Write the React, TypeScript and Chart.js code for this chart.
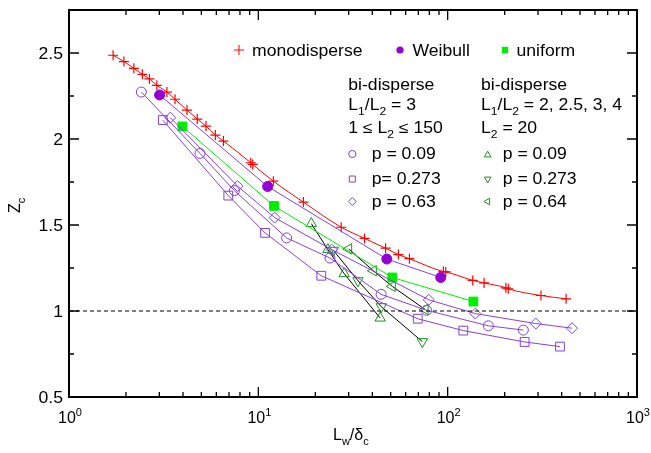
import React, { useEffect, useRef } from "react";
import { Chart, registerables } from "chart.js";

Chart.register(...registerables);

const monoX = [1.71, 1.95, 2.2, 2.44, 2.66, 2.91, 3.29, 3.63, 4.2, 4.76, 5.29, 5.93, 6.54, 9.12, 9.34, 12.0, 17.3, 27.4, 36.4, 47.0, 54.9, 62.8, 94.9, 97.7, 135.7, 155.7, 203, 209, 311, 422];
const monoY = [2.487, 2.45, 2.411, 2.376, 2.349, 2.312, 2.273, 2.231, 2.168, 2.116, 2.075, 2.023, 1.988, 1.862, 1.852, 1.755, 1.633, 1.487, 1.422, 1.365, 1.328, 1.304, 1.229, 1.227, 1.178, 1.163, 1.135, 1.129, 1.09, 1.071];
const weibullX = [3.01, 11.2, 47.7, 91.9];
const weibullY = [2.256, 1.724, 1.302, 1.195];
const uniformX = [3.97, 12.1, 51.0, 136.7];
const uniformY = [2.073, 1.611, 1.195, 1.055];
const circX = [2.41, 4.92, 7.47, 14.1, 23.9, 44.5, 77.4, 164, 251];
const circY = [2.273, 1.916, 1.7, 1.425, 1.308, 1.097, 1.004, 0.914, 0.889];
const sqX = [3.13, 6.94, 10.85, 21.5, 69.5, 121, 255, 392];
const sqY = [2.11, 1.671, 1.454, 1.205, 0.955, 0.886, 0.82, 0.793];
const diaX = [3.43, 7.77, 12.2, 24.4, 79.5, 140, 292, 454];
const diaY = [2.124, 1.726, 1.543, 1.357, 1.065, 0.985, 0.927, 0.9];
const upX = [19.05, 23.3, 28.4, 44.0];
const upY = [1.508, 1.357, 1.217, 0.959];
const downX = [24.9, 33.6, 44.6, 73.5];
const downY = [1.353, 1.176, 1.025, 0.822];
const leftX = [30.0, 40.5, 51.0, 76.0];
const leftY = [1.361, 1.234, 1.143, 1.009];
const refX = [1, 1000];
const refY = [1, 1];

const yTickValues = [0.5, 1, 1.5, 2, 2.5];
const yTickLabels = ["0.5", "1", "1.5", "2", "2.5"];
const xTickValues = [1, 10, 100, 1000];
const xTickExps = ["0", "1", "2", "3"];

const RED = "#ff0000";
const PURPLE_LINE = "#8a3fe0";
const PURPLE_MARK = "#7e44d4";
const WEIBULL = "#9400d3";
const LIME = "#00ee00";
const GREEN = "#1f8f1f";
const FONT = "'Liberation Sans', Arial, Helvetica, sans-serif";

const pts = (xs: number[], ys: number[]) => xs.map((x, i) => ({ x, y: ys[i] }));

type Seg = { t: string; sub?: boolean; sup?: boolean };

function drawRich(ctx: CanvasRenderingContext2D, segs: Seg[], x: number, y: number, size = 16, sx = 1.1) {
  let cx = x;
  for (const s of segs) {
    const fs = s.sub || s.sup ? Math.round(size * 0.7) : size;
    const dy = s.sub ? size * 0.33 : s.sup ? -size * 0.45 : 0;
    ctx.font = `${fs}px ${FONT}`;
    ctx.save();
    ctx.translate(cx, y + dy);
    ctx.scale(sx, 1);
    ctx.fillText(s.t, 0, 0);
    ctx.restore();
    cx += ctx.measureText(s.t).width * sx;
  }
  return cx - x;
}

function measureRich(ctx: CanvasRenderingContext2D, segs: Seg[], size = 16, sx = 1.1) {
  let w = 0;
  for (const s of segs) {
    const fs = s.sub || s.sup ? Math.round(size * 0.7) : size;
    ctx.font = `${fs}px ${FONT}`;
    w += ctx.measureText(s.t).width * sx;
  }
  return w;
}

function symbol(ctx: CanvasRenderingContext2D, kind: string, x: number, y: number, r: number, color: string, fill: boolean) {
  ctx.save();
  ctx.strokeStyle = color;
  ctx.fillStyle = color;
  ctx.lineWidth = 1;
  ctx.beginPath();
  if (kind === "circle") ctx.arc(x, y, r, 0, Math.PI * 2);
  else if (kind === "rect") ctx.rect(x - r, y - r, 2 * r, 2 * r);
  else if (kind === "diamond") {
    ctx.moveTo(x, y - r); ctx.lineTo(x + r, y); ctx.lineTo(x, y + r); ctx.lineTo(x - r, y); ctx.closePath();
  } else if (kind === "up") {
    ctx.moveTo(x, y - r); ctx.lineTo(x + r * 0.87, y + r * 0.5); ctx.lineTo(x - r * 0.87, y + r * 0.5); ctx.closePath();
  } else if (kind === "down") {
    ctx.moveTo(x, y + r); ctx.lineTo(x + r * 0.87, y - r * 0.5); ctx.lineTo(x - r * 0.87, y - r * 0.5); ctx.closePath();
  } else if (kind === "left") {
    ctx.moveTo(x - r, y); ctx.lineTo(x + r * 0.5, y - r * 0.87); ctx.lineTo(x + r * 0.5, y + r * 0.87); ctx.closePath();
  } else if (kind === "plus") {
    ctx.moveTo(x - r, y); ctx.lineTo(x + r, y); ctx.moveTo(x, y - r); ctx.lineTo(x, y + r);
  }
  if (fill) ctx.fill(); else ctx.stroke();
  ctx.restore();
}

const framePlugin = {
  id: "frame",
  afterDraw(chart: any) {
    const ctx: CanvasRenderingContext2D = chart.ctx;
    const { left, right, top, bottom } = chart.chartArea;
    const xs = chart.scales.x;
    const ys = chart.scales.y;
    ctx.save();
    ctx.strokeStyle = "#000";
    ctx.lineWidth = 2;
    ctx.strokeRect(left, top, right - left, bottom - top);
    ctx.lineWidth = 1.3;
    ctx.beginPath();
    // x ticks
    for (let d = 1; d < 1000; d *= 10) {
      for (let m = 1; m <= 9; m++) {
        const v = d * m;
        const px = xs.getPixelForValue(v);
        const len = m === 1 ? 10 : 5;
        ctx.moveTo(px, bottom); ctx.lineTo(px, bottom - len);
        ctx.moveTo(px, top); ctx.lineTo(px, top + len);
      }
    }
    // y ticks
    for (let k = 0; k <= 9; k++) {
      const v = 0.5 + k * 0.25;
      const py = ys.getPixelForValue(v);
      const len = k % 2 === 0 ? 10 : 5;
      ctx.moveTo(left, py); ctx.lineTo(left + len, py);
      ctx.moveTo(right, py); ctx.lineTo(right - len, py);
    }
    ctx.stroke();

    ctx.fillStyle = "#000";
    ctx.textBaseline = "alphabetic";
    // y tick labels
    yTickValues.forEach((v, i) => {
      const py = ys.getPixelForValue(v);
      const segs = [{ t: yTickLabels[i] }];
      const w = measureRich(ctx, segs, 16, 1.1);
      drawRich(ctx, segs, 63 - w, py + 6, 16, 1.1);
    });
    // x tick labels
    xTickValues.forEach((v, i) => {
      const px = xs.getPixelForValue(v);
      const segs: Seg[] = [{ t: "10" }, { t: xTickExps[i], sup: true }];
      const w = measureRich(ctx, segs, 16, 1.0);
      drawRich(ctx, segs, px - w / 2 + 1, 423, 16, 1.0);
    });
    // axis titles
    drawRich(ctx, [{ t: "L" }, { t: "w", sub: true }, { t: "/δ" }, { t: "c", sub: true }], 333, 440, 16, 1.0);
    ctx.save();
    ctx.translate(20, 213);
    ctx.rotate(-Math.PI / 2);
    drawRich(ctx, [{ t: "Z" }, { t: "c", sub: true }], 0, 0, 16, 1.0);
    ctx.restore();

    // legend
    symbol(ctx, "plus", 239, 50, 5, RED, false);
    drawRich(ctx, [{ t: "monodisperse" }], 252, 55.5);
    symbol(ctx, "circle", 400, 50, 3.6, WEIBULL, true);
    drawRich(ctx, [{ t: "Weibull" }], 412.5, 55.5);
    symbol(ctx, "rect", 505, 50, 3.2, LIME, true);
    drawRich(ctx, [{ t: "uniform" }], 516.5, 55.5);

    const lx = 348.3;
    drawRich(ctx, [{ t: "bi-disperse" }], lx, 89.5);
    drawRich(ctx, [{ t: "L" }, { t: "1", sub: true }, { t: "/L" }, { t: "2", sub: true }, { t: " = 3" }], lx, 110);
    drawRich(ctx, [{ t: "1 ≤ L" }, { t: "2", sub: true }, { t: " ≤ 150" }], lx, 133);
    symbol(ctx, "circle", 352.3, 154, 3.6, PURPLE_MARK, false);
    drawRich(ctx, [{ t: "p = 0.09" }], 371.7, 159.3);
    symbol(ctx, "rect", 352.3, 179, 3, PURPLE_MARK, false);
    drawRich(ctx, [{ t: "p= 0.273" }], 371.7, 184.3);
    symbol(ctx, "diamond", 352.3, 201.5, 4, PURPLE_MARK, false);
    drawRich(ctx, [{ t: "p = 0.63" }], 371.7, 206.7);

    const rx = 481;
    drawRich(ctx, [{ t: "bi-disperse" }], rx, 89.5);
    drawRich(ctx, [{ t: "L" }, { t: "1", sub: true }, { t: "/L" }, { t: "2", sub: true }, { t: " = 2, 2.5, 3, 4" }], rx, 110);
    drawRich(ctx, [{ t: "L" }, { t: "2", sub: true }, { t: " = 20" }], rx, 133);
    symbol(ctx, "up", 487.7, 155, 3.8, GREEN, false);
    drawRich(ctx, [{ t: "p = 0.09" }], 502.7, 159.3);
    symbol(ctx, "down", 487.7, 179, 3.8, GREEN, false);
    drawRich(ctx, [{ t: "p = 0.273" }], 502.7, 184.3);
    symbol(ctx, "left", 487.7, 201.5, 3.8, GREEN, false);
    drawRich(ctx, [{ t: "p = 0.64" }], 502.7, 206.7);
    ctx.restore();
  },
};

export default function App() {
  const ref = useRef<HTMLCanvasElement | null>(null);
  useEffect(() => {
    document.body.style.margin = "0";
    if (!ref.current) return;
    const line = (data: any, color: string, lineColor: string, style: string, radius: number, fill: boolean, extra: any = {}) => ({
      data,
      showLine: true,
      borderColor: lineColor,
      borderWidth: 1,
      pointStyle: style,
      pointRadius: radius,
      pointBorderColor: color,
      pointBackgroundColor: fill ? color : "rgba(255,255,255,0)",
      pointBorderWidth: 1,
      tension: 0,
      ...extra,
    });
    const chart = new Chart(ref.current, {
      type: "scatter",
      data: {
        datasets: [
          { data: pts(refX, refY), showLine: true, borderColor: "#000", borderWidth: 1, borderDash: [4, 3], pointRadius: 0 },
          line(pts(circX, circY), PURPLE_MARK, PURPLE_LINE, "circle", 5, false),
          line(pts(sqX, sqY), PURPLE_MARK, PURPLE_LINE, "rect", 6.2, false),
          line(pts(diaX, diaY), PURPLE_MARK, PURPLE_LINE, "rectRot", 5.5, false),
          line(pts(uniformX, uniformY), LIME, LIME, "rect", 6.2, true),
          line(pts(weibullX, weibullY), WEIBULL, PURPLE_LINE, "circle", 5, true),
          line(pts(upX, upY), GREEN, "#000", "triangle", 6, false),
          line(pts(downX, downY), GREEN, "#000", "triangle", 6, false, { pointRotation: 180 }),
          line(pts(leftX, leftY), GREEN, "#000", "triangle", 6, false, { pointRotation: 270 }),
          line(pts(monoX, monoY), RED, RED, "cross", 5, false, { cubicInterpolationMode: "monotone", pointBorderWidth: 1.2 }),
        ],
      },
      options: {
        animation: false,
        responsive: false,
        maintainAspectRatio: false,
        layout: { padding: { left: 69, right: 14, top: 10, bottom: 56 } },
        plugins: { legend: { display: false }, tooltip: { enabled: false }, title: { display: false } },
        scales: {
          x: { type: "logarithmic", min: 1, max: 1000, display: false },
          y: { type: "linear", min: 0.5, max: 2.75, display: false },
        },
      },
      plugins: [framePlugin],
    });
    return () => chart.destroy();
  }, []);
  return <canvas ref={ref} width={651} height={453} style={{ display: "block" }} />;
}
